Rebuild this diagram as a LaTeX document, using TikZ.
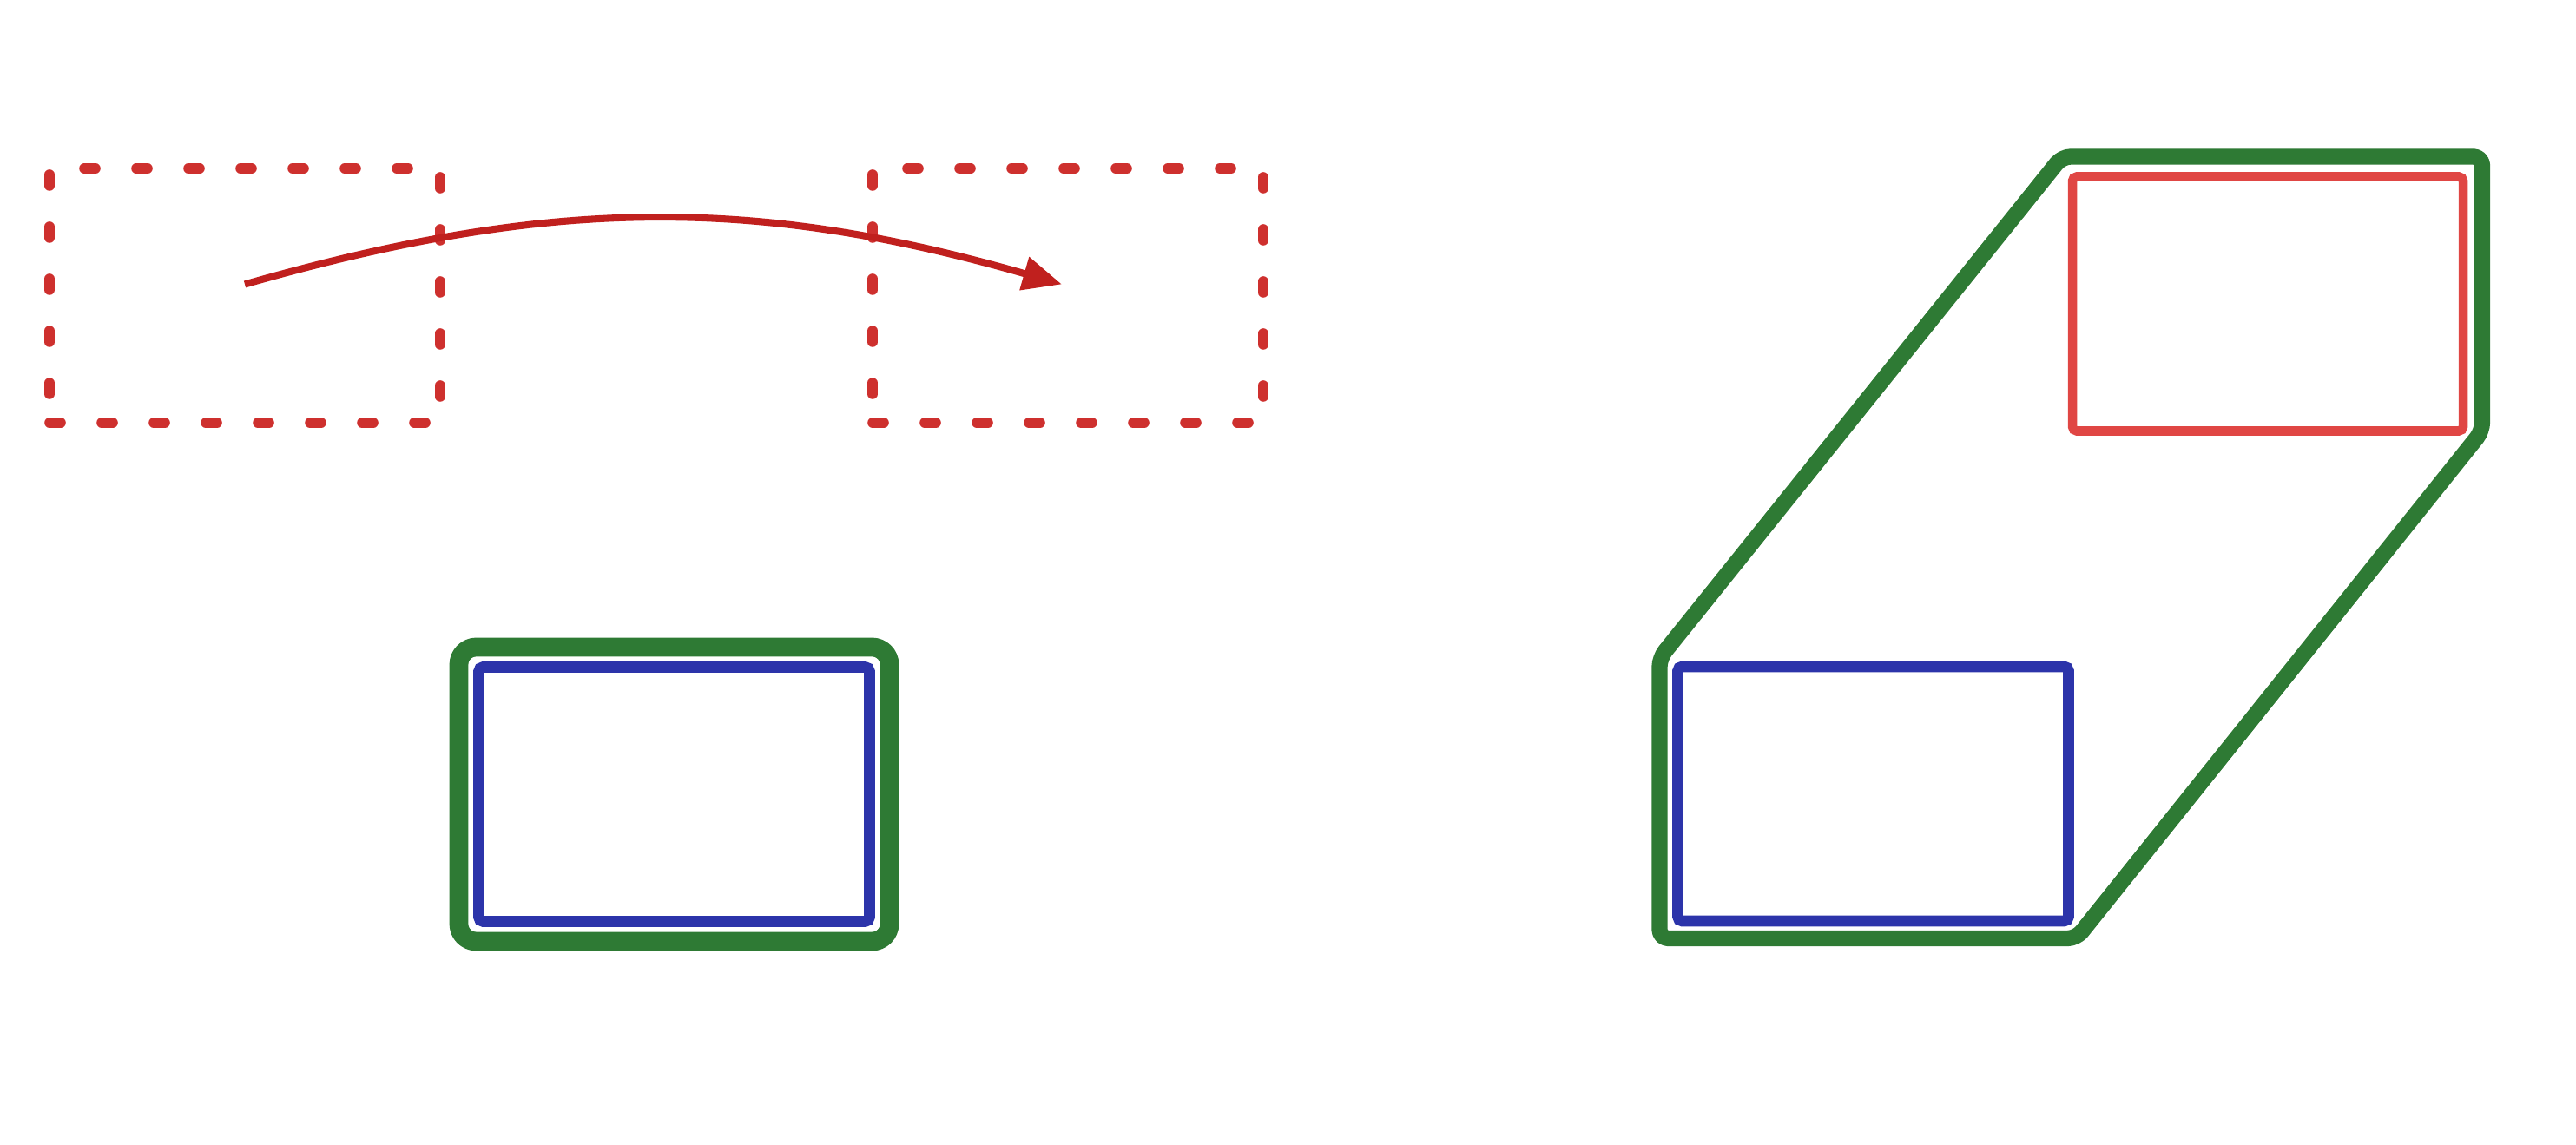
\documentclass[tikz,border=0pt]{standalone}
\usetikzlibrary{positioning,fit,arrows.meta}

\definecolor{penred}{RGB}{206,48,46}
\definecolor{arrowred}{RGB}{192,32,30}
\definecolor{lightred}{RGB}{224,70,68}
\definecolor{pengreen}{RGB}{46,122,52}
\definecolor{penblue}{RGB}{44,52,170}

\begin{document}
\begin{tikzpicture}[
    boxshape/.style={rectangle, minimum width=4.5cm, minimum height=2.93cm, inner sep=0pt, outer sep=0pt},
    ghost/.style={boxshape, draw=penred, line width=3.3pt, dash pattern=on 1.3mm off 4.7mm, line cap=round},
    window/.style={boxshape, draw=penblue, line width=3.6pt, rounded corners=0.5mm},
    target/.style={boxshape, draw=lightred, line width=3pt, rounded corners=0.5mm},
    hull/.style={draw=pengreen, line width=5.2pt, line join=round},
    motion/.style={-{Triangle[length=4.5mm,width=3.8mm]}, line width=2.3pt, arrowred},
]
\useasboundingbox (0,0) rectangle (29.67,13.19);
% old and new position
\node[ghost] (oldpos) at (2.82,9.785) {};
\node[ghost, right=4.98cm of oldpos] (newpos) {};
\draw[motion] ([yshift=1.3mm]oldpos.center) to[bend left=16] ([xshift=-0.7mm,yshift=1.3mm]newpos.center);
% plain bounding box
\node[window] (single) at (7.765,4.04) {};
\node[hull, fit=(single), inner sep=0.23cm, rounded corners=2mm, line width=6.2pt] (singlebox) {};
% swept bounding box
\node[window] (startpos) at (21.575,4.045) {};
\node[target] (endpos) at (26.12,9.69) {};
\draw[hull, rounded corners=1mm] ([shift={(-0.21,-0.2)}]startpos.south west) -- ([shift={(-0.21,0.1)}]startpos.north west)
    -- ([shift={(-0.12,0.23)}]endpos.north west) -- ([shift={(0.22,0.23)}]endpos.north east)
    -- ([shift={(0.22,0)}]endpos.south east) -- ([shift={(0.09,-0.2)}]startpos.south east) -- cycle;
\end{tikzpicture}
\end{document}
